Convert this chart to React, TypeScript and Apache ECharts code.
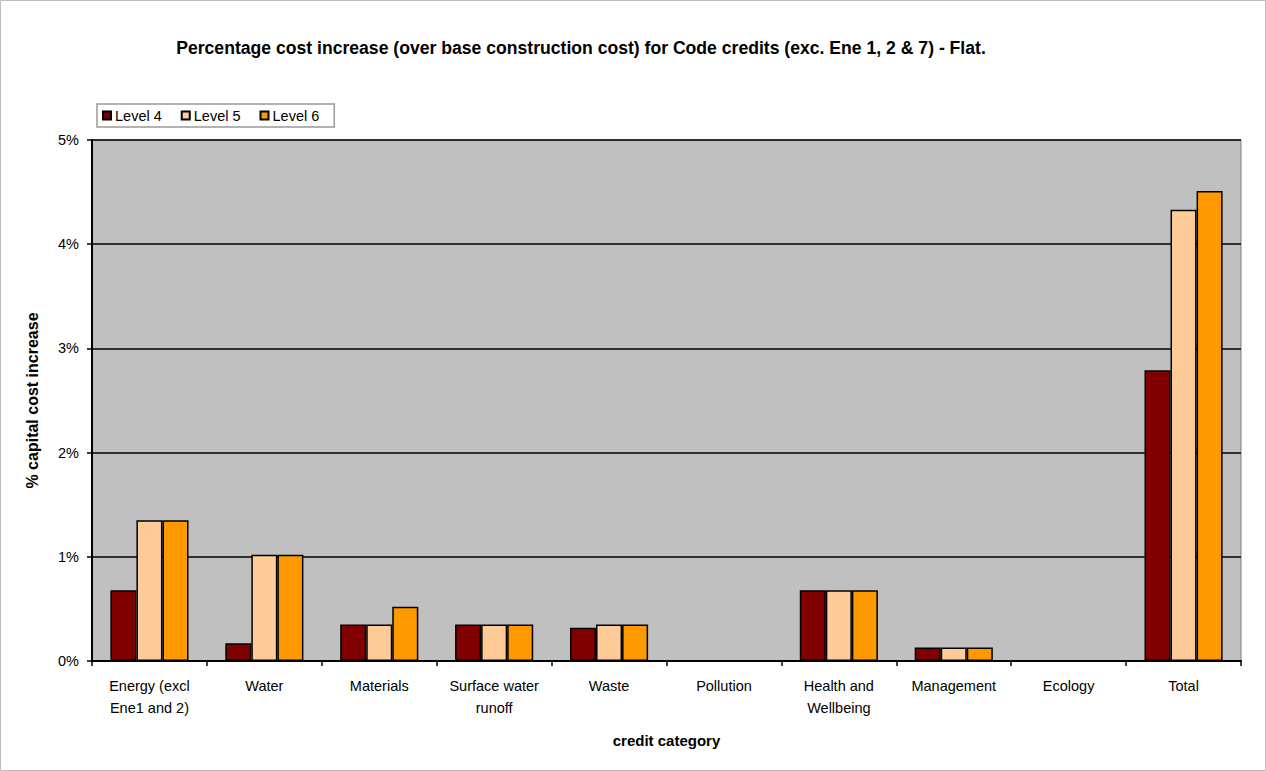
import React, { useEffect, useRef } from "react";
import * as echarts from "echarts";

const categories = [
  "Energy (excl\nEne1 and 2)",
  "Water",
  "Materials",
  "Surface water\nrunoff",
  "Waste",
  "Pollution",
  "Health and\nWellbeing",
  "Management",
  "Ecology",
  "Total",
];
const level4 = [0.68, 0.17, 0.35, 0.35, 0.32, 0, 0.68, 0.13, 0, 2.79];
const level5 = [1.35, 1.02, 0.35, 0.35, 0.35, 0, 0.68, 0.13, 0, 4.33];
const level6 = [1.35, 1.02, 0.52, 0.35, 0.35, 0, 0.68, 0.13, 0, 4.51];
const seriesNames = ["Level 4", "Level 5", "Level 6"];
const seriesColors = ["#800000", "#FFCC99", "#FF9900"];

const FONT = "'Liberation Sans', Arial, sans-serif";

export default function App() {
  const ref = useRef<HTMLDivElement>(null);
  useEffect(() => {
    if (!ref.current) return;
    const chart = echarts.init(ref.current, null, { renderer: "svg" });
    const data = [level4, level5, level6];
    chart.setOption({
      animation: false,
      backgroundColor: "#ffffff",
      textStyle: { fontFamily: FONT },
      title: {
        text: "Percentage cost increase (over base construction cost) for Code credits (exc. Ene 1, 2 & 7) - Flat.",
        left: 576,
        top: 34,
        textAlign: "center",
        textStyle: { fontSize: 17.6, fontWeight: "bold", color: "#000", fontFamily: FONT },
      },
      graphic: [
        {
          type: "rect",
          shape: { x: 0.5, y: 0.5, width: 1265, height: 770 },
          style: { fill: "none", stroke: "#bdbdbd", lineWidth: 1 },
          silent: true,
        },
      ],
      legend: {
        left: 97,
        top: 104,
        orient: "horizontal",
        itemWidth: 8,
        itemHeight: 8,
        itemGap: 19,
        padding: [4, 15, 4, 5],
        backgroundColor: "#ffffff",
        borderColor: "#999999",
        borderWidth: 1.5,
        textStyle: { fontSize: 14.5, color: "#000", fontFamily: FONT, padding: [0, 0, 0, -1] },
        icon: "rect",
        data: seriesNames,
      },
      grid: {
        left: 92,
        right: 25,
        top: 140,
        bottom: 110,
        show: true,
        backgroundColor: "#c0c0c0",
        borderColor: "#808080",
        borderWidth: 1,
      },
      xAxis: {
        type: "category",
        data: categories,
        name: "credit category",
        nameLocation: "middle",
        nameGap: 72,
        nameTextStyle: { fontSize: 15, fontWeight: "bold", color: "#000", fontFamily: FONT },
        axisLine: { lineStyle: { color: "#000", width: 2 } },
        axisTick: { show: true, length: 5, lineStyle: { color: "#000", width: 1.5 } },
        axisLabel: { fontSize: 14.5, color: "#000", lineHeight: 22, margin: 14, fontFamily: FONT, interval: 0 },
        splitLine: { show: false },
      },
      yAxis: {
        type: "value",
        min: 0,
        max: 5,
        interval: 1,
        name: "% capital cost increase",
        nameLocation: "middle",
        nameGap: 52,
        nameTextStyle: { fontSize: 16, fontWeight: "bold", color: "#000", fontFamily: FONT },
        axisLine: { show: true, lineStyle: { color: "#000", width: 2 } },
        axisTick: { show: true, length: 5, lineStyle: { color: "#000", width: 1.5 } },
        axisLabel: { fontSize: 14.5, color: "#000", formatter: "{value}%", margin: 13, fontFamily: FONT },
        splitLine: { show: true, lineStyle: { color: "#000", width: 1.5 } },
      },
      series: seriesNames.map((name, i) => ({
        name,
        type: "bar",
        data: data[i],
        barGap: "0%",
        barCategoryGap: "32%",
        itemStyle: { color: seriesColors[i], borderColor: "#000", borderWidth: 1.5 },
      })),
    });
    return () => chart.dispose();
  }, []);
  return (
    <div
      ref={ref}
      style={{ position: "absolute", left: 0, top: 0, width: 1266, height: 771 }}
    />
  );
}
